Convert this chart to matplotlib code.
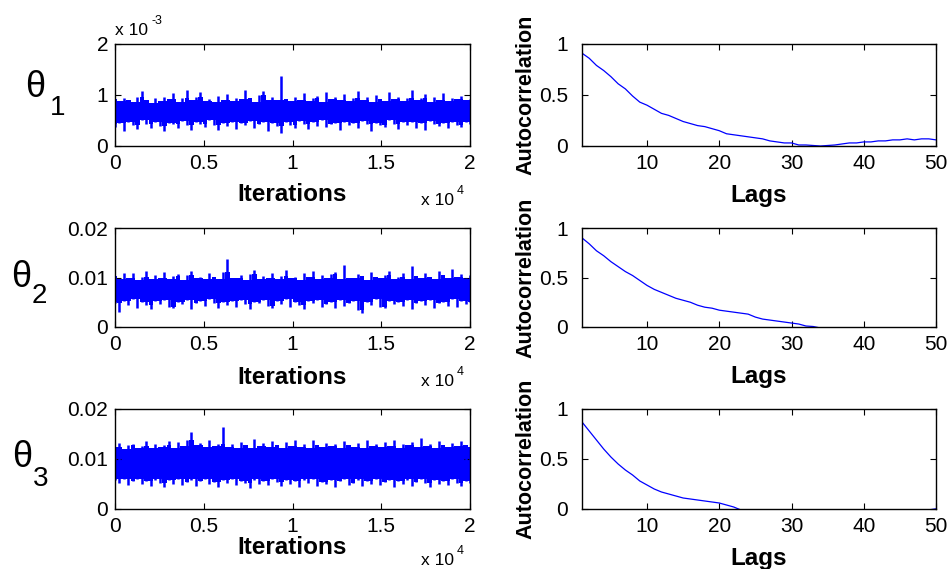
import numpy as np
import matplotlib
matplotlib.use('Agg')
import matplotlib.pyplot as plt

plt.rcParams['font.family'] = ['Liberation Sans', 'DejaVu Sans']

# trace envelopes (upper / lower edge of the sample band)
# theta1 in units of 1e-3
t1_hi = [0.93, 0.88, 0.95, 0.90, 0.86, 0.97, 1.08, 0.90, 0.85, 0.94,
         0.88, 0.96, 0.92, 1.04, 0.87, 0.95, 1.10, 0.90, 0.97, 1.06,
         0.89, 0.93, 0.86, 0.98, 0.91, 1.02, 0.88, 0.95, 0.92, 1.09,
         0.94, 0.87, 1.00, 1.07, 0.91, 0.96, 0.90, 1.37, 0.93, 0.88,
         0.97, 0.91, 1.03, 0.89, 0.95, 0.99, 0.87, 1.05, 0.92, 0.96,
         0.90, 1.01, 0.88, 0.94, 1.08, 0.91, 0.96, 0.87, 1.00, 0.93,
         0.89, 1.06, 0.92, 0.97, 0.88, 0.95, 1.09, 0.90, 0.94, 1.02,
         0.87, 0.96, 0.91, 1.04, 0.89, 0.95, 0.92, 0.98, 0.90, 0.93]
t1_lo = [0.38, 0.45, 0.30, 0.48, 0.42, 0.33, 0.50, 0.44, 0.36, 0.47,
         0.40, 0.29, 0.46, 0.43, 0.35, 0.49, 0.41, 0.32, 0.47, 0.44,
         0.37, 0.50, 0.42, 0.31, 0.46, 0.39, 0.48, 0.34, 0.45, 0.41,
         0.49, 0.36, 0.43, 0.47, 0.30, 0.45, 0.40, 0.26, 0.48, 0.42,
         0.35, 0.49, 0.44, 0.33, 0.47, 0.40, 0.50, 0.37, 0.43, 0.46,
         0.32, 0.48, 0.41, 0.45, 0.36, 0.49, 0.43, 0.30, 0.46, 0.42,
         0.38, 0.50, 0.44, 0.34, 0.47, 0.41, 0.48, 0.36, 0.45, 0.31,
         0.49, 0.43, 0.39, 0.46, 0.35, 0.48, 0.42, 0.37, 0.47, 0.44]
# theta2 and theta3 in units of 1e-3
t2_hi = [10.4, 9.6, 11.0, 9.8, 10.9, 9.5, 10.2, 11.3, 9.7, 10.5,
         9.9, 11.1, 9.6, 10.3, 10.8, 9.4, 10.6, 11.4, 9.8, 10.2,
         9.6, 10.9, 10.1, 9.7, 11.2, 13.8, 10.0, 9.9, 10.6, 9.5,
         10.8, 11.5, 9.7, 10.3, 9.9, 11.0, 9.6, 10.4, 11.6, 9.8,
         10.2, 9.5, 10.9, 10.1, 11.3, 9.7, 10.5, 9.9, 10.7, 11.2,
         9.6, 12.6, 10.0, 9.8, 10.8, 10.3, 9.5, 11.1, 10.2, 9.9,
         10.6, 11.4, 9.7, 10.1, 10.9, 9.6, 12.4, 10.3, 9.8, 11.0,
         10.2, 9.7, 11.3, 10.5, 9.9, 11.7, 10.1, 10.8, 9.9, 10.6]
t2_lo = [4.8, 3.0, 5.2, 4.4, 5.6, 3.9, 5.0, 4.5, 3.6, 5.3,
         4.7, 5.5, 4.1, 3.8, 5.1, 4.6, 5.4, 3.7, 4.9, 5.2,
         4.3, 5.6, 4.8, 3.9, 5.0, 4.4, 5.3, 4.0, 5.5, 4.6,
         3.7, 5.1, 4.9, 5.4, 4.2, 3.8, 5.2, 4.7, 5.6, 4.1,
         5.0, 4.5, 3.6, 5.3, 4.8, 5.5, 4.0, 4.6, 5.1, 3.9,
         5.4, 4.3, 4.9, 5.2, 3.5, 2.8, 5.0, 4.4, 5.6, 4.1,
         3.8, 5.3, 4.7, 5.0, 4.2, 5.5, 3.6, 4.9, 5.2, 4.5,
         5.4, 3.9, 4.8, 5.1, 4.3, 5.6, 4.0, 5.3, 4.7, 5.0]
t3_hi = [12.4, 13.2, 12.1, 12.9, 13.0, 12.3, 12.7, 13.6, 12.2, 13.1,
         12.5, 12.9, 13.7, 12.3, 13.4, 12.6, 13.9, 15.5, 12.8, 13.3,
         12.4, 13.8, 12.7, 13.1, 16.5, 12.5, 13.0, 12.2, 13.5, 12.8,
         12.3, 14.0, 12.6, 13.2, 12.4, 13.6, 12.9, 12.2, 13.4, 12.7,
         13.8, 12.5, 13.1, 12.3, 13.9, 12.8, 12.4, 13.3, 12.6, 13.0,
         12.2, 13.7, 12.9, 12.5, 13.2, 12.3, 13.8, 12.7, 13.0, 12.4,
         13.5, 12.6, 13.9, 12.2, 13.1, 12.8, 13.4, 12.5, 14.2, 12.7,
         13.0, 12.3, 13.6, 12.9, 12.4, 13.3, 12.6, 13.7, 12.8, 12.5]
t3_lo = [5.9, 5.2, 6.1, 4.9, 5.6, 6.0, 5.0, 5.7, 4.6, 5.9,
         5.3, 4.4, 5.8, 5.1, 6.0, 4.8, 5.5, 5.9, 4.7, 5.6,
         6.1, 5.0, 5.4, 4.5, 5.8, 5.2, 6.0, 4.9, 5.7, 5.3,
         4.3, 5.9, 5.1, 5.6, 4.8, 6.0, 5.4, 4.6, 5.8, 5.0,
         5.7, 4.4, 5.9, 5.2, 6.1, 4.7, 5.5, 5.0, 5.8, 4.5,
         5.6, 6.0, 4.9, 5.3, 5.9, 4.6, 5.7, 5.1, 6.1, 4.8,
         5.4, 5.8, 4.4, 5.6, 5.0, 5.9, 4.7, 5.5, 6.0, 5.2,
         4.5, 5.8, 5.1, 5.6, 4.9, 6.0, 5.3, 4.6, 5.7, 5.2]

# autocorrelation, lags 1..50
lags = list(range(1, 51))
acf1 = [0.91, 0.86, 0.79, 0.74, 0.68, 0.61, 0.56, 0.49, 0.43, 0.40,
        0.36, 0.32, 0.30, 0.27, 0.24, 0.22, 0.20, 0.19, 0.17, 0.15,
        0.12, 0.11, 0.10, 0.09, 0.08, 0.07, 0.05, 0.04, 0.03, 0.03,
        0.01, 0.01, 0.005, 0.0, 0.005, 0.01, 0.02, 0.03, 0.03, 0.04,
        0.04, 0.05, 0.05, 0.06, 0.06, 0.07, 0.06, 0.07, 0.07, 0.06]
acf2 = [0.90, 0.84, 0.77, 0.72, 0.66, 0.61, 0.56, 0.52, 0.47, 0.42,
        0.38, 0.35, 0.32, 0.29, 0.27, 0.25, 0.22, 0.20, 0.19, 0.17,
        0.16, 0.15, 0.14, 0.13, 0.10, 0.08, 0.07, 0.06, 0.05, 0.04,
        0.03, 0.01, 0.005, -0.01, -0.02, -0.03, -0.03, -0.04, -0.04, -0.05,
        -0.05, -0.04, -0.05, -0.04, -0.04, -0.03, -0.04, -0.03, -0.03, -0.03]
acf3 = [0.87, 0.78, 0.69, 0.60, 0.52, 0.45, 0.39, 0.34, 0.28, 0.24,
        0.20, 0.17, 0.15, 0.13, 0.11, 0.10, 0.09, 0.08, 0.07, 0.06,
        0.04, 0.02, -0.01, -0.02, -0.03, -0.03, -0.04, -0.05, -0.05, -0.06,
        -0.06, -0.05, -0.06, -0.05, -0.05, -0.04, -0.05, -0.04, -0.04, -0.03,
        -0.04, -0.03, -0.03, -0.02, -0.03, -0.02, -0.02, -0.01, -0.01, 0.002]

n_iter = 20000
params = ['1', '2', '3']
traces = [(t1_hi, t1_lo, 1e-3), (t2_hi, t2_lo, 1e-3), (t3_hi, t3_lo, 1e-3)]
acfs = [acf1, acf2, acf3]
trace_ylims = [0.002, 0.02, 0.02]
trace_yticklabels = [['0', '1', '2'], ['0', '0.01', '0.02'], ['0', '0.01', '0.02']]

W, H = 947, 569
fig = plt.figure(figsize=(W / 100, H / 100), dpi=100)

def fx(px):
    return px / W

def fy(py):
    return 1 - py / H

# row pixel extents (top, bottom)
rows = [(44, 146), (228, 327), (409, 509)]
iter_label_off = [37, 39, 27]
mult_off = [59, 59, 56]
theta_pos = [(25, 97, 50, 115), (11, 287, 32, 303), (12, 467, 33, 486)]

for i, (top, bot) in enumerate(rows):
    h = (bot - top) / H
    axl = fig.add_axes([fx(115), fy(bot), 355 / W, h])
    axr = fig.add_axes([fx(582), fy(bot), 354 / W, h])

    hi, lo, sc = traces[i]
    hi = np.array(hi) * sc
    lo = np.array(lo) * sc
    x = np.linspace(0, n_iter, len(hi))
    # solid body of the band, with spikes out to each sample's extreme
    body_hi = np.minimum(hi, np.roll(hi, 1))
    body_lo = np.maximum(lo, np.roll(lo, 1))
    axl.fill_between(x, body_lo, body_hi, step='mid', color='blue', lw=0)
    axl.vlines(x, lo, hi, color='blue', lw=1.8)
    axl.set_xlim(0, n_iter)
    axl.set_ylim(0, trace_ylims[i])
    axl.set_xticks(np.linspace(0, n_iter, 5), ['0', '0.5', '1', '1.5', '2'])
    axl.set_yticks(np.linspace(0, trace_ylims[i], 3), trace_yticklabels[i])
    axl.set_xlabel('Iterations', fontsize=17.5, fontweight='bold', va='top')
    axl.xaxis.set_label_coords(0.5, -iter_label_off[i] / (bot - top))

    axr.plot(lags, acfs[i], color='blue', lw=0.9)
    axr.set_xlim(1, 50)
    axr.set_ylim(0, 1)
    axr.set_xticks([10, 20, 30, 40, 50])
    axr.set_yticks([0, 0.5, 1], ['0', '0.5', '1'])
    axr.set_xlabel('Lags', fontsize=17.5, fontweight='bold', va='top')
    axr.xaxis.set_label_coords(0.5, -38 / (bot - top))
    axr.set_ylabel('Autocorrelation', fontsize=15.5, fontweight='bold')
    axr.yaxis.set_label_coords(-46 / 354, 0.5)

    for ax, ypad in ((axl, 5), (axr, 10)):
        ax.tick_params(direction='in', top=True, right=True, length=4,
                       width=0.8, labelsize=15)
        ax.tick_params(axis='y', pad=ypad)
        ax.tick_params(axis='x', pad=6)
        for s in ax.spines.values():
            s.set_linewidth(1.0)

    # x 10^4 multiplier below trace axes
    fig.text(fx(421), fy(bot + mult_off[i]), 'x 10', fontsize=12.5, va='baseline')
    fig.text(fx(457), fy(bot + mult_off[i] - 11), '4', fontsize=9, va='baseline')

    tx, ty, sx, sy = theta_pos[i]
    fig.text(fx(tx), fy(ty), '\u03b8', fontsize=26, va='baseline')
    fig.text(fx(sx), fy(sy), params[i], fontsize=20, va='baseline')

# x 10^-3 multiplier above first trace
fig.text(fx(115), fy(35), 'x 10', fontsize=12.5, va='baseline')
fig.text(fx(151), fy(24), '-3', fontsize=9, va='baseline')

fig.savefig('out.png', dpi=100)
